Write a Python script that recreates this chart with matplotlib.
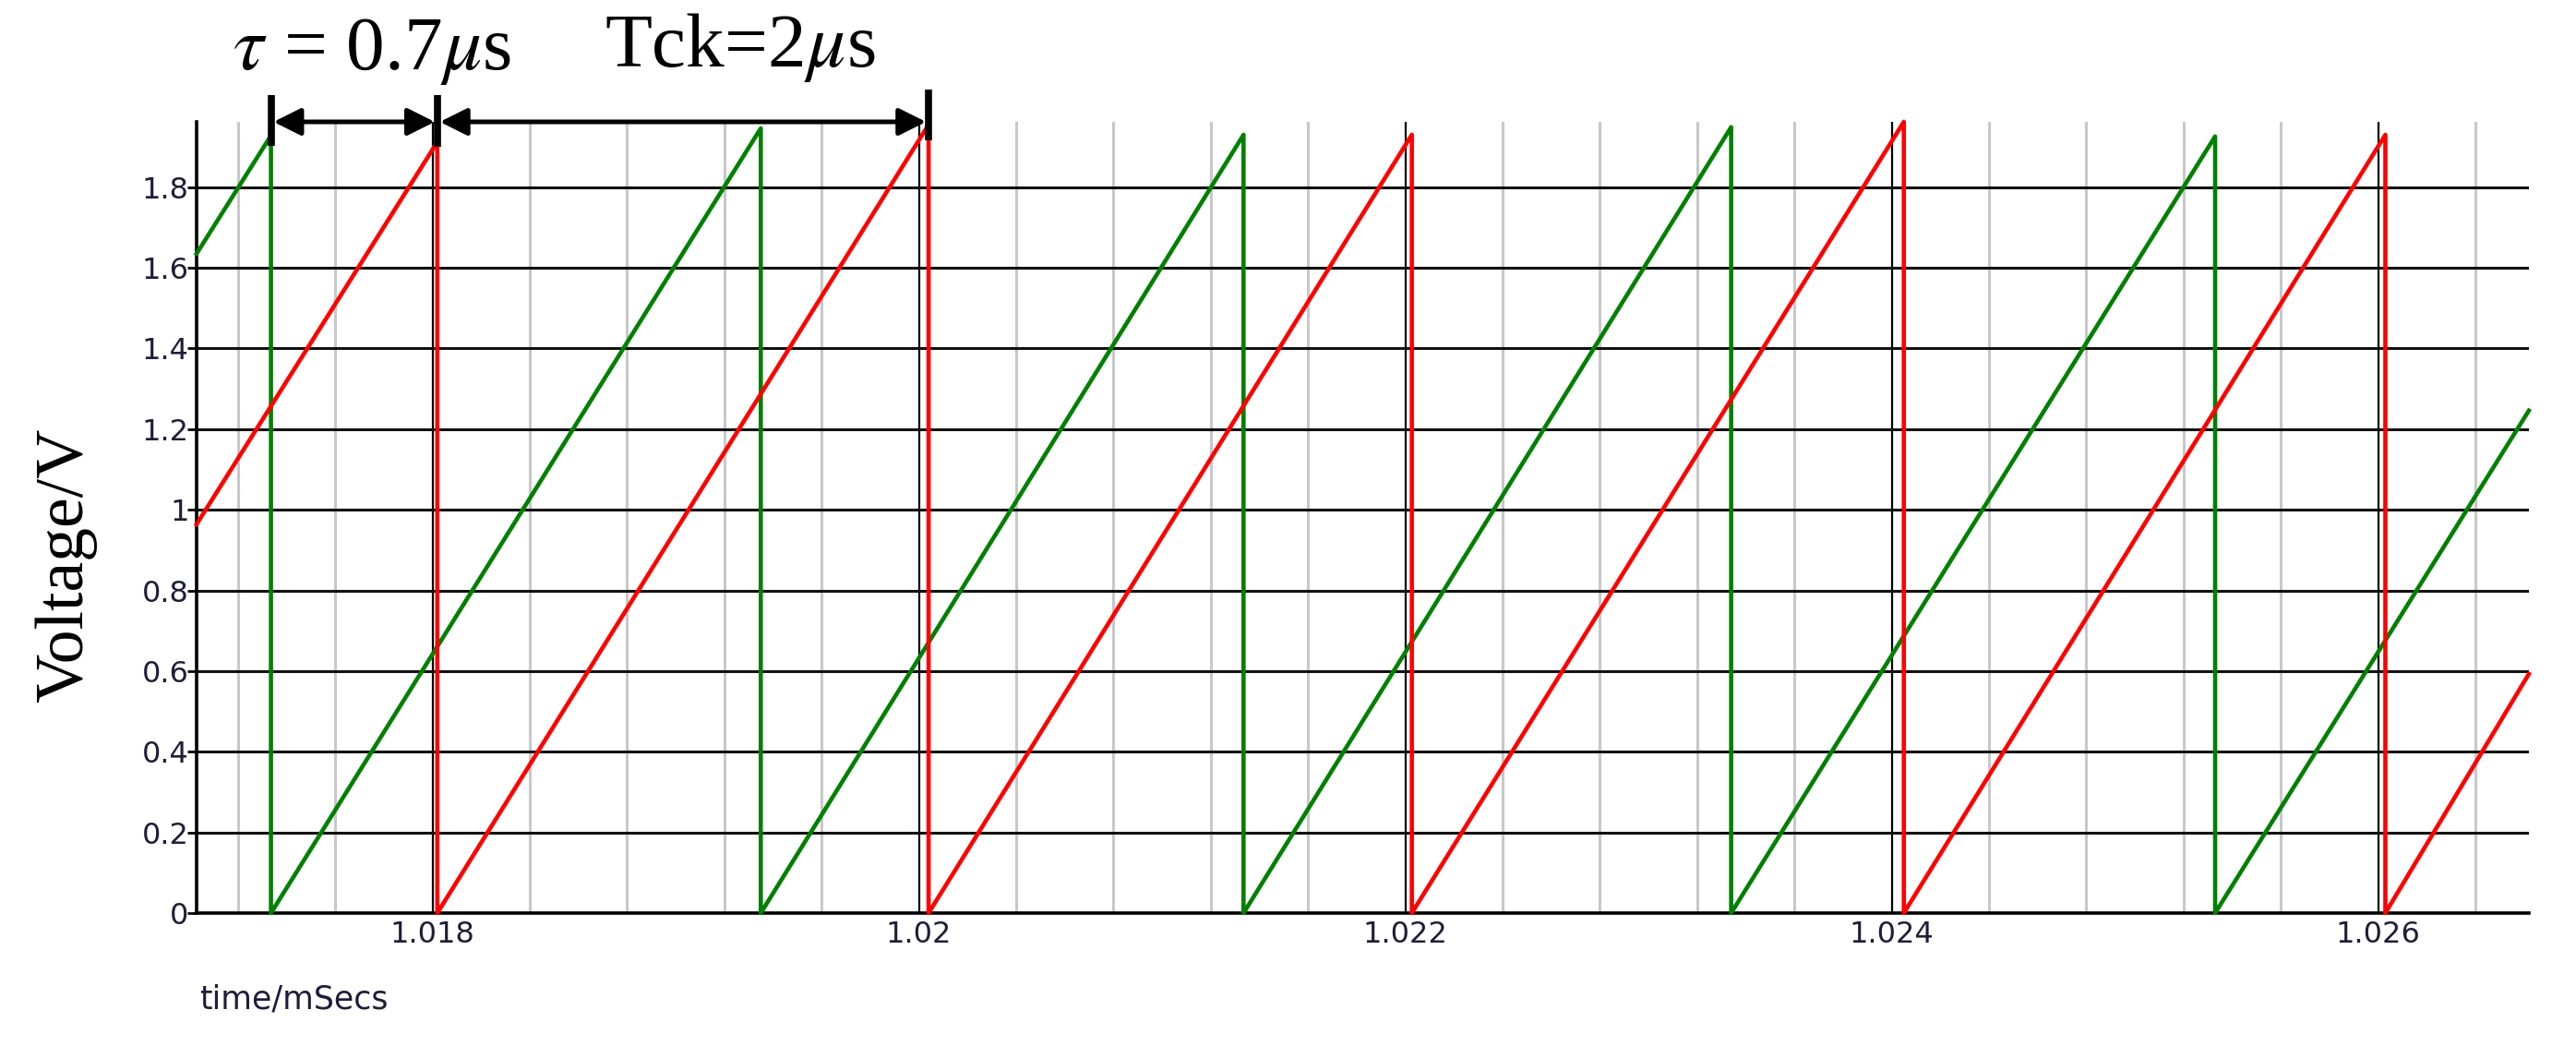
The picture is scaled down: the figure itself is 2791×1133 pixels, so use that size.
import numpy as np
import matplotlib
matplotlib.use('Agg')
import matplotlib.pyplot as plt
from matplotlib.ticker import FixedLocator, FormatStrFormatter

# (time in ms, voltage in V)
t_start = 1.01703
t_end = 1.02662

green_start = 1.635
green_drop = [1.017336, 1.01935, 1.021335, 1.02334, 1.02533]
green_peak = [1.928, 1.946, 1.930, 1.949, 1.926]
green_end = 1.246

red_start = 0.964
red_drop = [1.01802, 1.02004, 1.022027, 1.02405, 1.02603]
red_peak = [1.912, 1.955, 1.930, 1.962, 1.930]
red_end = 0.593

x_ticks = [1.018, 1.020, 1.022, 1.024, 1.026]
x_minor = [1.0172, 1.0176, 1.0184, 1.0188, 1.0192, 1.0196, 1.0204, 1.0208,
           1.0212, 1.0216, 1.0224, 1.0228, 1.0232, 1.0236, 1.0244, 1.0248,
           1.0252, 1.0256, 1.0264]
y_ticks = [0, 0.2, 0.4, 0.6, 0.8, 1.0, 1.2, 1.4, 1.6, 1.8]

tau_label = r'$\tau$ = 0.7$\mu$s'
tck_label = r'Tck=2$\mu$s'


def sawtooth_vertices(v0, drops, peaks, v1):
    # ramp vertices: start, each (drop, peak) -> (drop, 0), end
    xs = [t_start]
    ys = [v0]
    for d, p in zip(drops, peaks):
        xs += [d, d]
        ys += [p, 0]
    xs.append(t_end)
    ys.append(v1)
    return xs, ys


plt.rcParams['mathtext.fontset'] = 'stix'

fig = plt.figure(figsize=(27.91, 11.33), dpi=100)
ax = fig.add_axes([0.0763, 0.1271, 0.9054, 0.7564])

ax.set_xlim(t_start, t_end)
ax.set_ylim(0, 1.962)

ax.xaxis.set_major_locator(FixedLocator(x_ticks))
ax.xaxis.set_minor_locator(FixedLocator(x_minor))
ax.set_yticks(y_ticks)
ax.xaxis.set_major_formatter(FormatStrFormatter('%g'))
ax.yaxis.set_major_formatter(FormatStrFormatter('%g'))

ax.tick_params(axis='x', which='both', length=0, pad=6, labelsize=23, labelcolor='#1e1e38')
ax.tick_params(axis='y', length=7, width=2, pad=-1, labelsize=23, labelcolor='#1e1e38')

ax.grid(axis='x', which='minor', color='#c8c8c8', lw=2.2, zorder=0)
ax.grid(axis='x', which='major', color='black', lw=1.6, zorder=0)
ax.grid(axis='y', which='major', color='#111111', lw=2.2, zorder=0)
ax.set_axisbelow(True)

for s in ['top', 'right']:
    ax.spines[s].set_visible(False)
ax.spines['left'].set_linewidth(2.6)
ax.spines['bottom'].set_linewidth(2.6)

gx, gy = sawtooth_vertices(green_start, green_drop, green_peak, green_end)
rx, ry = sawtooth_vertices(red_start, red_drop, red_peak, red_end)
ax.plot(gx, gy, color='#008000', lw=3.3, zorder=3, clip_on=False)
ax.plot(rx, ry, color='#ff0000', lw=3.3, zorder=4, clip_on=False)

# markers and arrows above the plot
marks = [green_drop[0], red_drop[0], red_drop[1]]
bar_tops = [2.029, 2.029, 2.043]
bar_bots = [1.903, 1.900, 1.917]
for xm, yt, yb in zip(marks, bar_tops, bar_bots):
    ax.plot([xm, xm], [yb, yt], color='black', lw=5.5, clip_on=False, zorder=6,
            solid_capstyle='butt')
arrow_y = 1.962
for a, b in [(marks[0], marks[1]), (marks[1], marks[2])]:
    ax.annotate('', xy=(b, arrow_y), xytext=(a, arrow_y),
                arrowprops=dict(arrowstyle='<|-|>,head_length=0.9,head_width=0.45',
                                lw=3.6, color='black', mutation_scale=20,
                                shrinkA=2, shrinkB=2),
                annotation_clip=False, zorder=6)

ax.text(1.01775, 2.093, tau_label, fontsize=60, family='Liberation Serif',
        ha='center', va='baseline', clip_on=False)
ax.text(1.019266, 2.100, tck_label, fontsize=60, family='Liberation Serif',
        ha='center', va='baseline', clip_on=False)

fig.text(71 / 2791, 1 - 612 / 1133, 'Voltage/V', rotation=90, fontsize=53,
         family='Liberation Serif', ha='center', va='center')
fig.text(216 / 2791, 1 - 1082 / 1133, 'time/mSecs', fontsize=25,
         color='#1e1e38', ha='left', va='center')

fig.savefig('out.png', dpi=100)
